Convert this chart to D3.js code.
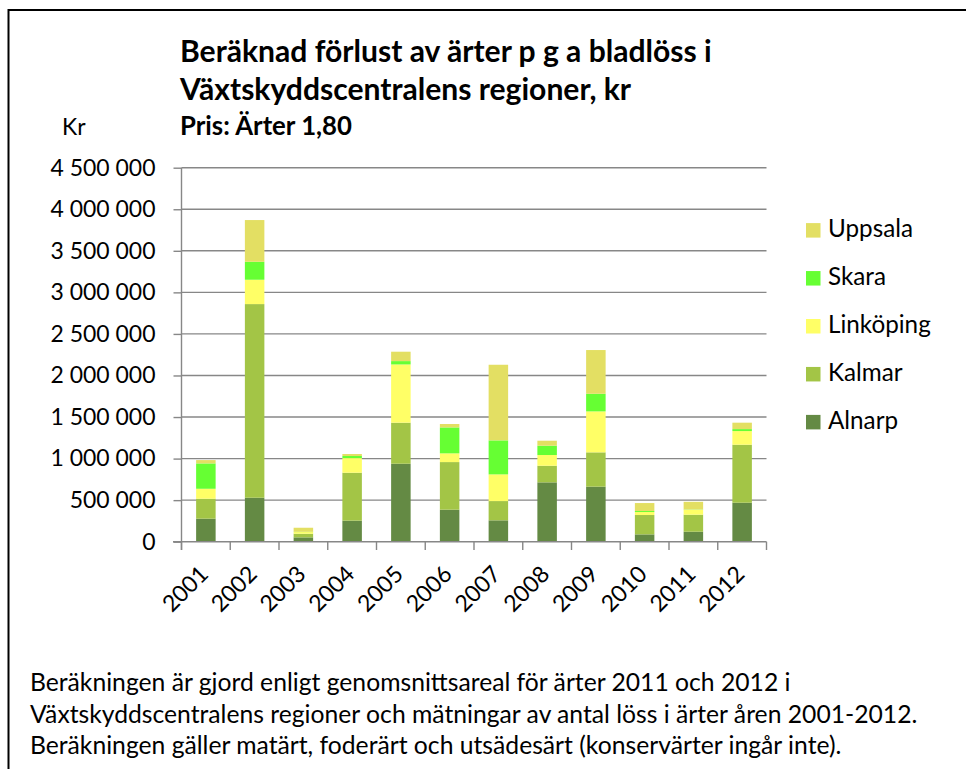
<!DOCTYPE html>
<html><head><meta charset="utf-8">
<script src="https://cdn.jsdelivr.net/npm/d3@7"></script>
<style>body{margin:0;background:#fff}svg{display:block}text{font-family:Lato,"Open Sans",sans-serif;fill:#000}</style>
</head><body>
<svg id="c" width="966" height="769"></svg>
<script>
const years = ["2001","2002","2003","2004","2005","2006","2007","2008","2009","2010","2011","2012"];
const alnarp   = [277000, 529000, 52000, 253000, 938000, 385000, 257000, 714000, 662000, 88000, 120000, 469000];
const kalmar   = [240000, 2330000, 44000, 577000, 494000, 573000, 232000, 200000, 413000, 233000, 205000, 698000];
const linkoping= [120000, 293000, 20000, 176000, 701000, 105000, 321000, 129000, 493000, 36000, 60000, 164000];
const skara    = [305000, 216000, 3000, 25000, 40000, 312000, 409000, 112000, 212000, 12000, 3000, 24000];
const uppsala  = [40000, 502000, 49000, 24000, 113000, 41000, 910000, 60000, 526000, 96000, 92000, 77000];
const seriesNames = ["Alnarp","Kalmar","Linköping","Skara","Uppsala"];
const seriesColors = ["#648A44","#A3C546","#FFFF66","#66FF33","#E3DF63"];
const yTicks = [0,500000,1000000,1500000,2000000,2500000,3000000,3500000,4000000,4500000];
const titleLines = ["Beräknad förlust av ärter p g a bladlöss i","Växtskyddscentralens regioner, kr"];
const subtitle = "Pris: Ärter 1,80";
const yUnit = "Kr";
const notes = ["Beräkningen är gjord enligt genomsnittsareal för ärter 2011 och 2012 i",
  "Växtskyddscentralens regioner och mätningar av antal löss i ärter åren 2001-2012.",
  "Beräkningen gäller matärt, foderärt och utsädesärt (konservärter ingår inte)."];

const svg = d3.select("#c");
// helper to fit font size to a target width
function fit(sel, size, target){
  sel.attr("font-size", size);
  const w = sel.node().getComputedTextLength();
  const s = size*target/w;
  sel.attr("font-size", s.toFixed(2));
  return s;
}
function sizeFor(str, weight, target){
  const t = svg.append("text").attr("font-weight",weight).text(str);
  const s = fit(t, 20, target); t.remove(); return s;
}

// border (top and left)
svg.append("path").attr("d","M8.5,769 L8.5,10 L966,10").attr("fill","none").attr("stroke","#000").attr("stroke-width",2);

const x = d3.scaleBand().domain(years).range([181.5,766.5]).paddingInner(0.6).paddingOuter(0.3);
const y = d3.scaleLinear().domain([0,4500000]).range([541.7,167.7]);

// gridlines
svg.append("g").selectAll("line").data(yTicks.slice(1)).join("line")
  .attr("x1",181.5).attr("x2",766.5).attr("y1",d=>y(d)).attr("y2",d=>y(d))
  .attr("stroke","#878787").attr("stroke-width",1.4);

// stacked bars
const table = years.map((yr,i)=>({year:yr, Alnarp:alnarp[i], Kalmar:kalmar[i], "Linköping":linkoping[i], Skara:skara[i], Uppsala:uppsala[i]}));
const stack = d3.stack().keys(seriesNames)(table);
const color = d3.scaleOrdinal().domain(seriesNames).range(seriesColors);
svg.append("g").selectAll("g").data(stack).join("g").attr("fill",d=>color(d.key))
  .selectAll("rect").data(d=>d).join("rect")
  .attr("x",d=>x(d.data.year)).attr("width",x.bandwidth())
  .attr("y",d=>y(d[1])).attr("height",d=>Math.max(0,y(d[0])-y(d[1])));

// y axis
const tickSize = sizeFor("4 500 000","normal",105);
const yAx = svg.append("g").attr("transform","translate(181.5,0)")
  .call(d3.axisLeft(y).tickValues(yTicks).tickSize(8).tickPadding(18)
    .tickFormat(d=>d3.format(",")(d).replace(/,/g," ")));
yAx.select(".domain").remove();
yAx.selectAll("line").attr("stroke","#878787").attr("stroke-width",1.4);
yAx.selectAll("text").attr("font-size",tickSize).attr("font-family","Lato").attr("fill","#000");
svg.append("line").attr("x1",181.5).attr("x2",181.5).attr("y1",167.7).attr("y2",550).attr("stroke","#878787").attr("stroke-width",1.4);

// x axis
svg.append("line").attr("x1",173).attr("x2",766.5).attr("y1",541.7).attr("y2",541.7).attr("stroke","#878787").attr("stroke-width",1.4);
const bounds = years.map(d=>x(d)-x.step()*0.3).concat([766.5]);
svg.append("g").selectAll("line").data(bounds).join("line")
  .attr("x1",d=>d).attr("x2",d=>d).attr("y1",541.7).attr("y2",550)
  .attr("stroke","#878787").attr("stroke-width",1.4);
svg.append("g").selectAll("text").data(years).join("text")
  .attr("transform",d=>`translate(${x(d)+x.bandwidth()/2-2},570) rotate(-45)`)
  .attr("text-anchor","end").attr("dy","0.35em").attr("font-size",tickSize).text(d=>d);

// titles
const t1 = svg.append("text").attr("x",180).attr("y",62).attr("font-weight","bold").text(titleLines[0]);
const ts = fit(t1, 28, 532);
svg.append("text").attr("x",180).attr("y",100).attr("font-weight","bold").attr("font-size",ts).text(titleLines[1]);
const st = svg.append("text").attr("x",180).attr("y",135).attr("font-weight","bold").text(subtitle);
fit(st, 24, 172);
svg.append("text").attr("x",62).attr("y",135).attr("font-size",tickSize).text(yUnit);

// legend
const legendOrder = seriesNames.slice().reverse();
const lg = svg.append("g").selectAll("g").data(legendOrder).join("g")
  .attr("transform",(d,i)=>`translate(806,${230.3+i*47.95})`);
lg.append("rect").attr("x",0).attr("y",-7.2).attr("width",14.5).attr("height",14.5).attr("fill",d=>color(d));
const legSize = sizeFor("Uppsala","normal",85);
lg.append("text").attr("x",22).attr("y",7).attr("font-size",legSize).text(d=>d);

// notes
const noteSize = sizeFor(notes[1],"normal",888);
svg.append("g").selectAll("text").data(notes).join("text")
  .attr("x",30).attr("y",(d,i)=>691+i*31.5).attr("font-size",noteSize).text(d=>d);
</script>
</body></html>
